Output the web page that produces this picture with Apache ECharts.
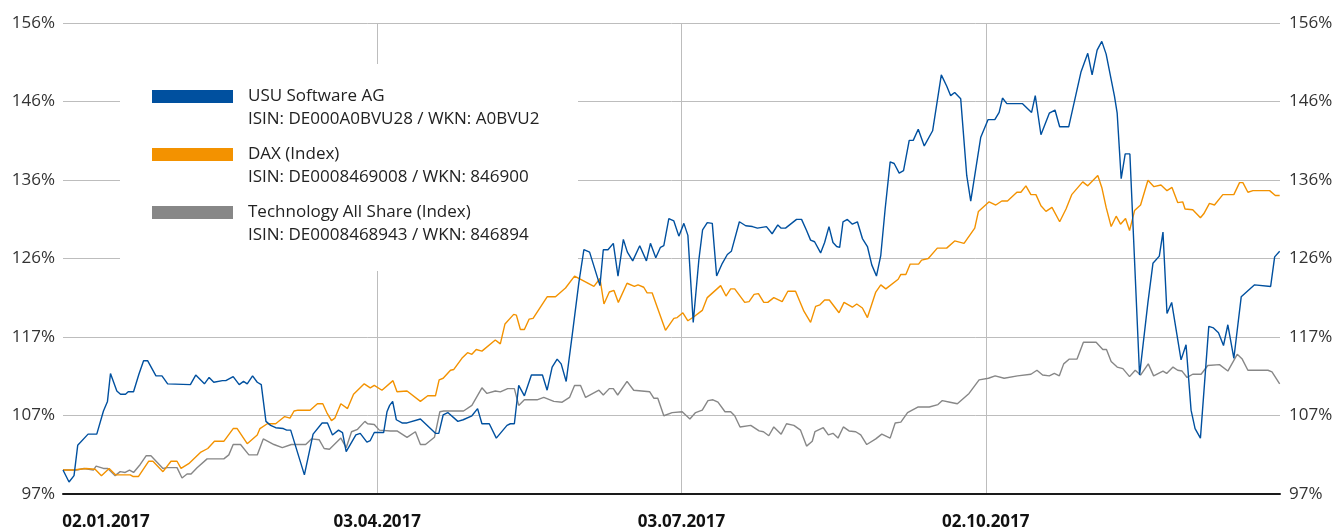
<!DOCTYPE html>
<html>
<head>
<meta charset="utf-8">
<script src="https://cdn.jsdelivr.net/npm/echarts@6/dist/echarts.min.js"></script>
<style>
  html, body { margin: 0; padding: 0; background: #fff; }
  #chart { width: 1337px; height: 531px; }
</style>
</head>
<body>
<div id="chart"></div>
<script>
// days counted from 30.12.2016 (start = 100 %)
const usuDay = [0, 1.8, 3.3, 4.4, 7.5, 10.1, 12.1, 13.3, 14.2, 16.1, 17.2, 18.7, 19.5, 21.1, 22.7, 24.1, 25.3, 27.8, 29.6, 31.3,
  38.1, 39.7, 42.3, 43.7, 45.1, 47.7, 48.7, 50.9, 52.7, 54, 55.1, 56.7, 58.1, 59.3, 60.7, 62.1, 63.6, 65.9, 66.9, 68.1,
  72.2, 74.8, 77.5, 79.1, 80.6, 82.4, 83.6, 84.7, 87.6, 88.9, 90.9, 91.9, 93.1, 95.9, 96.9, 97.7, 98.6, 99.7, 101.4, 102.9,
  106.9, 111.4, 112.4, 113.7, 115.1, 118.1, 119.7, 122.3, 124.0, 125.3, 127.5, 129.6, 132.8, 133.8, 135.0, 136.3, 138.0, 140.1, 143.4, 144.8,
  146.3, 147.8, 149.0, 150.5, 152.3, 154.3, 155.8, 157.5, 160.6, 161.6, 163.0, 164.6, 166.0, 167.6, 168.8, 170.4, 172.5, 174.5, 175.7, 177.3,
  178.7, 179.7, 181.2, 182.7, 184.2, 185.7, 186.9, 188.5, 190.2, 191.3, 192.7, 194.2, 195.5, 197.2, 198.7, 199.9, 202.3, 204.2, 206.2, 207.7,
  210.4, 212.1, 213.8, 214.8, 216.1, 219.4, 220.9, 222.4, 223.6, 224.8, 226.6, 227.8, 229.1, 230.3, 231.4, 232.3, 233.3, 234.6, 236.1, 237.6,
  239.1, 240.6, 241.9, 243.3, 244.6, 245.9, 247.4, 248.6, 250.1, 251.4, 253.1, 254.3, 255.8, 257.6, 260.1, 262.7, 264.3, 265.5, 266.7, 268.5,
  270.3, 271.5, 273.0, 274.5, 276.7, 278.7, 280.0, 281.0, 282.3, 287.0, 289.7, 290.8, 292.5, 295.0, 296.7, 298.1, 300.8, 304.5, 306.5, 307.8,
  309.3, 310.7, 312.0, 314.5, 315.3, 316.5, 317.7, 319.1, 322.0, 324.5, 326.0, 327.9, 329.0, 330.2, 331.6, 334.4, 335.9, 337.4, 338.6, 340.2,
  342.7, 344.1, 345.6, 347.1, 348.4, 350.2, 352.4, 356.4, 361.2, 362.4, 363.9];
const usuVal = [100, 98.5, 99.3, 103.1, 104.5, 104.5, 107.4, 108.6, 112.1, 109.9, 109.5, 109.5, 109.8, 109.8, 112.0, 113.7, 113.7, 111.8, 111.8, 110.8,
  110.7, 111.9, 110.8, 111.6, 111.0, 111.2, 111.2, 111.7, 110.7, 111.1, 110.8, 111.8, 111.0, 110.7, 106.1, 105.6, 105.3, 105.2, 105.0, 105.0,
  99.4, 104.5, 105.9, 105.9, 104.4, 105.0, 104.7, 102.3, 104.4, 104.6, 103.5, 103.7, 104.7, 104.7, 107.3, 108.1, 108.6, 106.3, 105.9, 105.9,
  106.4, 104.6, 104.6, 106.9, 107.2, 106.1, 106.3, 106.8, 107.7, 105.8, 105.8, 104.0, 105.6, 105.8, 105.8, 110.6, 109.3, 111.9, 111.9, 110.0,
  112.9, 113.9, 113.3, 111.1, 116.9, 123.5, 127.6, 127.3, 123.1, 127.6, 127.6, 128.4, 124.3, 128.9, 127.3, 126.2, 128.1, 126.2, 128.4, 126.6,
  127.9, 128.1, 131.5, 131.2, 129.3, 130.9, 129.4, 118.5, 126.4, 130.1, 131.0, 130.9, 124.3, 125.9, 127.0, 127.4, 131.1, 130.6, 130.5, 130.3,
  130.5, 129.6, 130.7, 130.3, 130.3, 131.4, 131.4, 130.0, 128.8, 128.6, 127.2, 128.5, 130.5, 128.5, 128.0, 127.9, 131.1, 131.4, 130.8, 131.1,
  129.0, 128.0, 125.7, 124.3, 126.9, 132.7, 138.6, 138.4, 137.2, 137.5, 141.3, 141.3, 142.7, 140.6, 142.5, 149.5, 148.1, 146.9, 147.3, 146.5,
  136.9, 133.7, 137.7, 141.7, 143.9, 143.9, 144.8, 146.6, 145.9, 145.9, 144.8, 146.9, 142.0, 144.7, 145.1, 143.0, 143.0, 149.9, 152.2, 149.5,
  152.6, 153.7, 152.1, 146.8, 144.7, 136.5, 139.6, 139.6, 111.9, 121.0, 125.9, 126.8, 129.8, 119.6, 121.0, 113.8, 115.7, 107.5, 105.2, 104.0,
  118.0, 117.8, 117.2, 115.6, 118.2, 114.0, 121.7, 123.2, 123.0, 126.7, 127.4];

const daxDay = [0, 3.1, 6.9, 9.6, 11.5, 13.8, 15.7, 20.1, 20.9, 22.6, 25.6, 26.9, 29.9, 32.3, 34.1, 35.3, 37.6, 41.1, 43.3, 45.3,
  48.1, 50.9, 52.1, 55.1, 58.1, 58.9, 61.1, 63.6, 66.3, 67.9, 69.1, 70.3, 73.9, 76.1, 77.7, 78.9, 80.3, 81.3, 83.1, 85.1,
  86.9, 90.1, 91.9, 93.1, 95.4, 98.7, 99.9, 102.9, 106.9, 109.1, 111.4, 112.5, 113.7, 115.9, 116.9, 119.3, 121.0, 122.3, 123.6, 125.3,
  129.3, 130.8, 132.2, 134.8, 135.6, 136.8, 138.0, 139.4, 140.6, 144.8, 147.3, 150.3, 153.0, 158.8, 160.6, 161.8, 163.4, 164.8, 166.1, 168.7,
  170.9, 172.0, 173.7, 174.7, 176.2, 177.9, 180.2, 182.7, 183.7, 185.4, 186.9, 188.7, 191.2, 192.7, 196.7, 198.3, 199.7, 200.9, 203.9, 205.2,
  206.7, 208.0, 209.6, 210.8, 212.6, 215.1, 216.8, 219.1, 221.6, 223.6, 225.1, 226.4, 227.8, 229.2, 232.1, 233.6, 236.1, 237.4, 239.1, 240.6,
  243.1, 244.6, 246.1, 249.8, 250.6, 252.1, 253.4, 255.9, 256.8, 258.8, 261.5, 264.3, 266.7, 269.5, 272.7, 273.8, 277.0, 279.0, 280.8, 282.5,
  285.3, 286.5, 288.0, 289.5, 291.0, 292.5, 294.0, 295.8, 298.1, 300.0, 301.7, 305.0, 306.5, 309.5, 310.7, 312.0, 313.5, 315.0, 316.3, 317.8,
  319.0, 320.5, 322.3, 324.5, 326.3, 328.4, 330.2, 331.7, 333.4, 334.9, 335.6, 337.9, 340.2, 341.2, 342.9, 344.4, 346.9, 350.2, 351.9, 352.9,
  354.4, 355.9, 360.9, 362.6, 363.9];
const daxVal = [100, 100, 100.2, 100.1, 99.3, 100.2, 99.4, 99.4, 99.2, 99.2, 101.1, 101.1, 99.8, 101.1, 101.1, 100.2, 100.8, 102.2, 102.7, 103.6,
  103.6, 105.2, 105.2, 103.3, 104.4, 105.2, 105.8, 105.8, 106.7, 106.5, 107.4, 107.5, 107.5, 108.3, 108.3, 107.2, 106.2, 106.5, 108.3, 107.7,
  109.5, 110.8, 110.3, 110.6, 110.0, 111.2, 109.8, 109.9, 108.6, 109.3, 109.3, 111.3, 111.5, 112.5, 112.6, 114.0, 114.7, 114.5, 115.1, 114.9,
  116.3, 115.8, 118.3, 119.5, 119.4, 117.6, 117.6, 118.9, 119.0, 121.7, 121.7, 122.8, 124.3, 123.0, 124.0, 120.8, 122.3, 122.5, 121.0, 123.4,
  123.0, 123.2, 122.9, 122.2, 122.2, 120.2, 117.5, 119.0, 119.1, 119.7, 118.7, 119.2, 120.0, 121.6, 123.1, 121.8, 122.7, 122.7, 121.0, 121.1,
  122.0, 122.1, 121.0, 121.0, 121.6, 121.1, 122.4, 122.4, 119.9, 118.5, 120.5, 120.7, 121.3, 121.3, 119.7, 121.0, 120.4, 120.8, 120.3, 119.1,
  122.3, 123.2, 122.7, 123.9, 124.5, 124.5, 125.8, 125.8, 126.3, 126.5, 127.8, 127.8, 128.7, 128.4, 130.3, 132.4, 133.6, 133.2, 133.7, 133.7,
  134.8, 134.8, 135.6, 134.5, 134.5, 133.1, 132.4, 132.9, 131.1, 132.7, 134.5, 136.1, 135.6, 136.9, 135.4, 132.9, 130.5, 131.8, 130.8, 131.5,
  130.0, 132.5, 133.2, 136.3, 135.5, 135.7, 135.0, 135.4, 133.5, 133.6, 132.7, 132.6, 131.6, 132.1, 133.4, 133.2, 134.5, 134.5, 136.0, 136.0,
  134.8, 135.0, 135.0, 134.4, 134.4];

const techDay = [0, 4.1, 6.3, 9.1, 9.9, 12.1, 13.4, 15.6, 17.1, 18.6, 19.9, 21.1, 23.1, 24.9, 26.3, 29.9, 31.1, 34.1, 35.6, 37.1,
  38.3, 40.1, 43.1, 48.1, 49.6, 50.9, 53.1, 55.6, 58.1, 59.9, 63.1, 65.6, 68.3, 72.6, 74.3, 76.6, 78.1, 79.7, 83.1, 84.7,
  86.3, 88.1, 90.3, 91.1, 93.1, 94.6, 97.9, 99.9, 102.9, 105.4, 106.9, 108.4, 111.1, 112.7, 113.9, 119.8, 122.3, 125.3, 126.8, 129.3,
  130.8, 133.0, 135.0, 136.3, 138.0, 141.8, 143.8, 146.8, 149.3, 151.5, 153.0, 154.8, 156.3, 160.3, 161.6, 163.4, 164.6, 165.9, 168.7, 170.7,
  175.5, 176.7, 177.9, 179.7, 182.2, 185.2, 187.5, 189.2, 191.2, 192.9, 194.4, 195.9, 198.0, 199.7, 200.9, 202.5, 205.7, 208.2, 209.5, 211.1,
  212.6, 214.8, 216.4, 218.6, 220.6, 222.4, 224.1, 224.9, 227.4, 228.9, 230.3, 231.8, 233.4, 235.1, 237.1, 238.6, 240.4, 243.1, 244.9, 247.4,
  248.9, 250.6, 252.6, 255.8, 259.1, 261.7, 263.0, 265.3, 267.5, 271.0, 274.0, 276.8, 278.8, 281.5, 285.5, 289.5, 291.3, 293.0, 295.0, 296.5,
  298.0, 299.3, 301.0, 303.3, 305.2, 309.0, 311.0, 312.1, 313.5, 315.3, 317.0, 319.0, 320.7, 322.3, 324.6, 326.2, 329.0, 330.1, 332.0, 333.4,
  334.7, 336.2, 337.9, 340.4, 342.4, 345.9, 348.4, 351.2, 352.7, 354.4, 360.4, 361.6, 363.9];
const techVal = [100, 100, 100.2, 100, 100.5, 100.2, 100.2, 99.3, 99.8, 99.7, 100.0, 99.7, 100.7, 101.8, 101.8, 100.2, 100.3, 100.3, 99.0, 99.5,
  99.5, 100.3, 101.4, 101.4, 101.9, 103.2, 103.2, 101.9, 101.9, 103.9, 103.2, 102.8, 103.2, 103.2, 103.9, 103.8, 102.7, 102.6, 104.0, 102.8,
  104.8, 105.1, 106.1, 105.8, 105.7, 105.0, 104.9, 104.9, 104.1, 104.8, 103.2, 103.2, 104.1, 107.3, 107.4, 107.4, 108.1, 110.3, 109.6, 109.9,
  109.8, 110.2, 110.2, 108.1, 108.8, 108.8, 109.1, 108.6, 108.5, 109.1, 110.6, 110.6, 109.1, 110.0, 109.4, 110.2, 110.2, 109.4, 111.1, 110.0,
  109.8, 109.0, 109.0, 106.8, 107.2, 107.3, 106.4, 107.2, 107.5, 108.7, 108.8, 108.5, 107.3, 107.3, 106.8, 105.4, 105.6, 104.9, 104.8, 104.3,
  105.4, 104.5, 105.8, 105.6, 105.0, 103.0, 103.6, 104.8, 105.3, 104.4, 104.6, 104.0, 105.4, 104.9, 104.8, 104.4, 103.2, 103.9, 104.5, 104.0,
  105.9, 106.0, 107.2, 107.9, 107.9, 108.2, 108.7, 108.5, 108.3, 109.6, 111.3, 111.5, 111.8, 111.5, 111.8, 112.0, 112.5, 111.9, 111.8, 112.1,
  111.8, 113.3, 113.9, 113.9, 116.0, 116.0, 115.1, 115.1, 113.6, 112.9, 112.7, 111.7, 112.5, 111.9, 113.3, 111.8, 112.4, 112.1, 112.9, 112.5,
  112.4, 111.6, 112.0, 112.0, 113.1, 113.2, 112.4, 114.5, 113.9, 112.5, 112.5, 112.3, 110.8];

const yTicks = [97, 106.83, 116.67, 126.5, 136.33, 146.17, 156];
const yLabels = ['97%', '107%', '117%', '126%', '136%', '146%', '156%'];
const xLabelDates = ['2017-01-02', '2017-04-03', '2017-07-03', '2017-10-02'];
const xGridDates = ['2017-04-03', '2017-07-03', '2017-10-02'];
const seriesNames = ['USU Software AG', 'DAX (Index)', 'Technology All Share (Index)'];
const seriesIds = ['ISIN: DE000A0BVU28 / WKN: A0BVU2', 'ISIN: DE0008469008 / WKN: 846900', 'ISIN: DE0008468943 / WKN: 846894'];
const colors = ['#00509f', '#f39200', '#878787'];

const DAY = 86400000;
const t0 = Date.UTC(2016, 11, 30);
const toDay = s => { const p = s.split('-'); return Math.round((Date.UTC(+p[0], +p[1] - 1, +p[2]) - t0) / DAY); };
const pad = n => (n < 10 ? '0' : '') + n;
const dayText = d => { const dt = new Date(t0 + Math.round(d) * DAY); return pad(dt.getUTCDate()) + '.' + pad(dt.getUTCMonth() + 1) + '.' + dt.getUTCFullYear(); };
const pairs = (days, vals) => days.map((d, i) => [d, vals[i]]);

const chart = echarts.init(document.getElementById('chart'));
const font = 'Open Sans';

function yLabel(v) {
  let best = 0;
  yTicks.forEach((t, i) => { if (Math.abs(t - v) < Math.abs(yTicks[best] - v)) best = i; });
  return yLabels[best];
}

const yBase = {
  type: 'value', min: 97, max: 156,
  axisLine: { show: false }, axisTick: { show: false, customValues: yTicks },
  axisLabel: { customValues: yTicks, formatter: yLabel, fontFamily: font, fontSize: 17, color: '#333' }
};

const legendGraphics = [{ type: 'rect', z: 1, shape: { x: 120, y: 64, width: 458, height: 207 }, style: { fill: '#fff' } }];
seriesNames.forEach((name, i) => {
  const top = 90 + i * 58;
  legendGraphics.push({ type: 'rect', z: 3, shape: { x: 152, y: top, width: 81, height: 13 }, style: { fill: colors[i] } });
  legendGraphics.push({
    type: 'text', z: 3, x: 248, y: top - 5,
    style: { text: name + '\n' + seriesIds[i], fill: '#222', font: '17px "Open Sans"', lineHeight: 22.5 }
  });
});

const firstDay = toDay(xLabelDates[0]);

chart.setOption({
  animation: false,
  grid: { left: 63, right: 57, top: 23, bottom: 35 },
  xAxis: {
    type: 'value',
    min: 0, max: 364,
    axisLine: { show: true, onZero: false, lineStyle: { color: '#1a1a1a', width: 2 } },
    axisTick: { show: false, customValues: xGridDates.map(toDay) },
    splitLine: { show: true, lineStyle: { color: '#bdbdbd', width: 1 } },
    axisLabel: {
      customValues: xLabelDates.map(toDay),
      margin: 20,
      fontFamily: font, fontSize: 17, fontWeight: 'bold', color: '#111',
      formatter: v => (v === firstDay ? '{first|' + dayText(v) + '}' : dayText(v)),
      rich: { first: { padding: [0, 0, 0, 66], fontFamily: font, fontSize: 17, fontWeight: 'bold', color: '#111' } }
    }
  },
  yAxis: [
    Object.assign({}, yBase, {
      position: 'left',
      splitLine: { show: true, lineStyle: { color: '#bdbdbd', width: 1 } },
      axisLabel: Object.assign({}, yBase.axisLabel, { margin: 8 })
    }),
    Object.assign({}, yBase, {
      position: 'right',
      splitLine: { show: false },
      axisLabel: Object.assign({}, yBase.axisLabel, { margin: 9 })
    })
  ],
  graphic: legendGraphics,
  series: [
    { name: seriesNames[2], type: 'line', data: pairs(techDay, techVal), showSymbol: false, z: 2,
      lineStyle: { color: colors[2], width: 1.4 } },
    { name: seriesNames[1], type: 'line', data: pairs(daxDay, daxVal), showSymbol: false, z: 3,
      lineStyle: { color: colors[1], width: 1.4 } },
    { name: seriesNames[0], type: 'line', data: pairs(usuDay, usuVal), showSymbol: false, z: 4,
      lineStyle: { color: colors[0], width: 1.4 } }
  ]
});
</script>
</body>
</html>
